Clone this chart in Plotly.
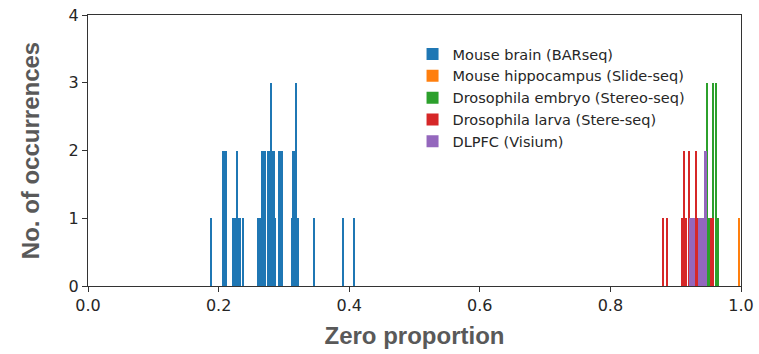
import plotly.graph_objects as go

# Bin centres (zero proportion) and counts per dataset
blue_x = [0.188, 0.2075, 0.2097, 0.2119, 0.2225, 0.2247, 0.2269, 0.2291, 0.2313, 0.2335,
          0.238, 0.2605, 0.2627, 0.2649, 0.2671, 0.2693, 0.2715, 0.2759, 0.2781, 0.2803,
          0.2825, 0.2847, 0.2869, 0.2935, 0.2957, 0.2979, 0.3125, 0.3147, 0.3169, 0.3191,
          0.3213, 0.347, 0.391, 0.407]
blue_y = [1, 2, 2, 2, 1, 1, 1, 2, 1, 1,
          1, 1, 1, 1, 2, 2, 2, 2, 2, 3,
          2, 2, 1, 2, 2, 2, 1, 2, 2, 3,
          1, 1, 1, 1]

orange_x = [0.997]
orange_y = [1]

green_x = [0.943, 0.948, 0.951, 0.954, 0.957, 0.962, 0.965]
green_y = [1, 3, 1, 1, 3, 3, 1]

red_x = [0.881, 0.887, 0.910, 0.913, 0.916, 0.921, 0.931, 0.934, 0.955, 0.958]
red_y = [1, 1, 1, 2, 1, 2, 2, 1, 1, 1]

purple_x = [0.923, 0.926, 0.928, 0.936, 0.939, 0.942, 0.945, 0.947]
purple_y = [1, 1, 1, 1, 1, 1, 2, 2]

names = ["Mouse brain (BARseq)", "Mouse hippocampus (Slide-seq)",
         "Drosophila embryo (Stereo-seq)", "Drosophila larva (Stere-seq)", "DLPFC (Visium)"]
colors = ["#1f77b4", "#ff7f0e", "#2ca02c", "#d62728", "#9467bd"]
xs = [blue_x, orange_x, green_x, red_x, purple_x]
ys = [blue_y, orange_y, green_y, red_y, purple_y]
widths = [0.0022, 0.0025, 0.0025, 0.0025, 0.0025]

x_ticks = [0.0, 0.2, 0.4, 0.6, 0.8, 1.0]
y_ticks = [0, 1, 2, 3, 4]

fig = go.Figure()
for n, c, x, y, w in zip(names, colors, xs, ys, widths):
    fig.add_trace(go.Bar(x=x, y=y, name=n, width=w, marker=dict(color=c, line=dict(width=0))))

axis_common = dict(showline=True, linecolor="#333333", linewidth=1.2, mirror=True,
                   ticks="outside", ticklen=5, tickcolor="#333333", showgrid=False, zeroline=False,
                   automargin=False,
                   tickfont=dict(family="DejaVu Sans", size=16, color="#262626"))

title_font = dict(family="Liberation Sans", size=24, color="#595959", weight="bold")

fig.update_layout(
    width=759, height=354, barmode="overlay", bargap=0,
    plot_bgcolor="white", paper_bgcolor="white",
    margin=dict(l=88, r=18, t=15, b=68),
    xaxis=dict(range=[0, 1], tickvals=x_ticks, ticktext=[f"{v:.1f}" for v in x_ticks],
               title=dict(text="Zero proportion", standoff=12, font=title_font),
               **axis_common),
    yaxis=dict(range=[0, 4], tickvals=y_ticks,
               title=dict(text="No. of occurrences", standoff=22, font=title_font),
               **axis_common),
    legend=dict(x=0.497, y=0.915, xanchor="left", yanchor="top",
                font=dict(family="DejaVu Sans", size=14.5, color="#262626"),
                bgcolor="rgba(255,255,255,0)", tracegroupgap=0, itemwidth=30),
    showlegend=True,
)

fig.write_html("out.html")
